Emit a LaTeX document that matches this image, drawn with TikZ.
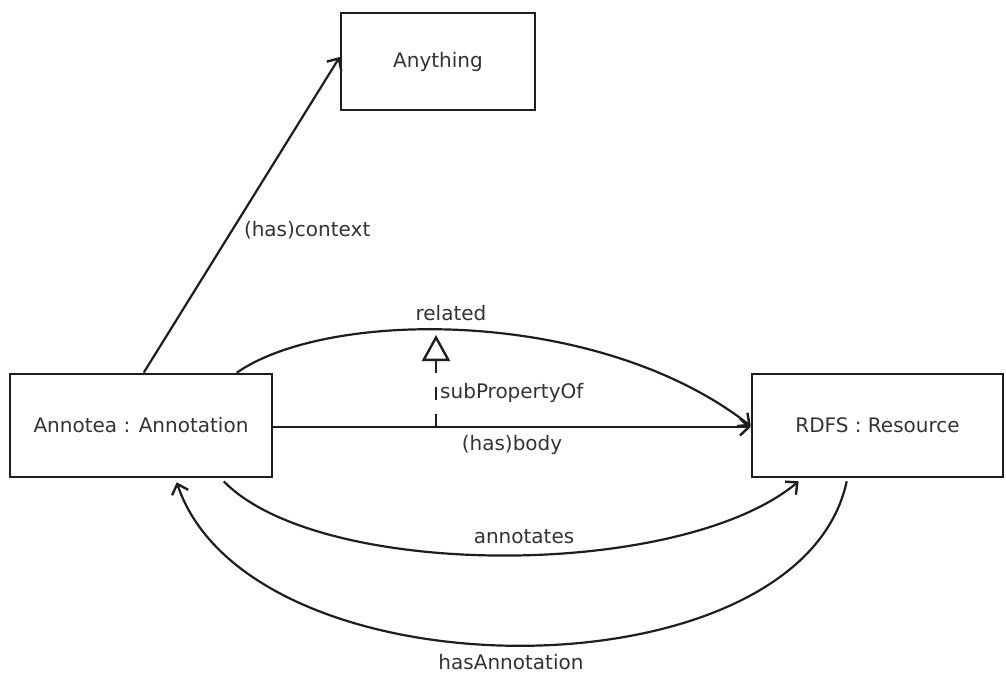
\documentclass[tikz,border=0pt]{standalone}
\usepackage{fontspec}
\setmainfont{DejaVu Sans}
\usetikzlibrary{arrows.meta}
\definecolor{ink}{HTML}{1E1E1E}
\definecolor{txt}{HTML}{333333}
\begin{document}
\begin{tikzpicture}[x=1pt,y=-1pt,
  box/.style={draw=ink,line width=2.6pt,fill=white,inner sep=0pt,text=txt},
  rel/.style={draw=ink,line width=2.2pt,-{Straight Barb[length=9pt,width=17pt,line width=2.4pt]}},
  lbl/.style={text=txt,inner sep=3pt},
  every node/.style={font=\fontsize{20}{24}\selectfont}]
\useasboundingbox (0,0) rectangle (1006,673);
\fill[white] (0,0) rectangle (1006,673);

% class boxes
\node[box,minimum width=194pt,minimum height=97pt] (any) at (438,61.5) {Anything};
\node[box,minimum width=262pt,minimum height=103pt] (ann) at (141,425.5) {Annotea : Annotation};
\node[box,minimum width=251pt,minimum height=103pt] (res) at (877.5,425.5) {RDFS : Resource};

% attachment points on the box borders
\coordinate (c0) at ([shift={(135,0)}]ann.north west);
\coordinate (c1) at (any.west |- 0,57);
\coordinate (b0) at (ann.east |- 0,427);
\coordinate (b1) at (res.west |- 0,427);
\coordinate (r0) at ([shift={(228,0)}]ann.north west);
\coordinate (r1) at (res.west |- 0,426);
\coordinate (a0) at ([shift={(215,3)}]ann.south west);
\coordinate (a1) at ([shift={(48,3)}]res.south west);
\coordinate (h0) at ([shift={(96,3)}]res.south west);
\coordinate (h1) at ([shift={(168,4)}]ann.south west);

% context
\draw[rel] (c0) -- (c1)
  node[lbl,pos=0.45,anchor=west,xshift=8pt] {(has)context};

% body
\draw[rel] (b0) -- (b1)
  node[lbl,midway,anchor=north,yshift=-4pt] {(has)body};

% related
\draw[rel] (r0) .. controls (330,308) and (600,308) .. (r1);
\node[lbl] (rl) at (451,313) {related};

% subPropertyOf
\coordinate (sp0) at (436,427);
\coordinate (sp1) at (436,335);
\draw[draw=ink,line width=2.6pt,dash pattern=on 13pt off 14pt,
  -{Triangle[open,length=26pt,width=28pt,line width=2.4pt]}] (sp0) -- (sp1);
\node[lbl,anchor=west] (spl) at (437,393) {subPropertyOf};

% annotates
\draw[rel] (a0) .. controls (320,580) and (680,580) .. (a1);
\node[lbl] (al) at (524,537) {annotates};

% hasAnnotation
\draw[rel] (h0) .. controls (800,700) and (250,700) .. (h1);
\node[lbl] (hl) at (511,662) {hasAnnotation};
\end{tikzpicture}
\end{document}
